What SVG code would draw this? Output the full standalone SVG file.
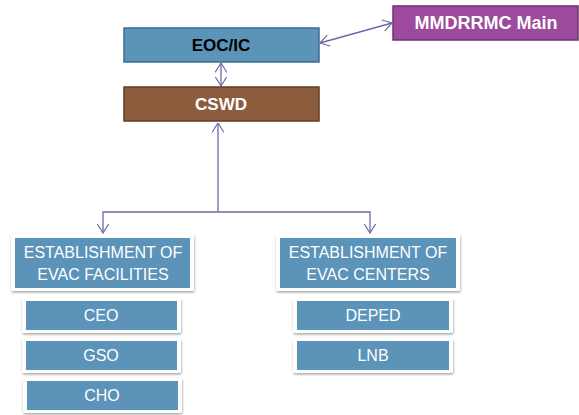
<svg xmlns="http://www.w3.org/2000/svg" width="579" height="415" viewBox="0 0 579 415">
<defs>
<style>
.t{font-family:"Liberation Sans",Arial,sans-serif;text-anchor:middle}
.hb{font-weight:bold;font-size:17px}
.w{fill:#ffffff}
.lbl{font-size:16px;fill:#ffffff}
.frame{fill:#ffffff;filter:url(#sh)}
.blue{fill:#5b93b9}
.con{stroke:#6a6aa8;stroke-width:1.3;fill:none}
</style>
<filter id="sh" x="-10%" y="-10%" width="120%" height="130%">
<feDropShadow dx="0.5" dy="1.5" stdDeviation="1.2" flood-color="#000" flood-opacity="0.35"/>
</filter>
<marker id="ah" viewBox="0 0 10 12" refX="9.5" refY="6" markerWidth="10" markerHeight="12" markerUnits="userSpaceOnUse" orient="auto-start-reverse">
<path d="M0,0 L9.5,6 L0,12" fill="none" stroke="#6a6aa8" stroke-width="1.2"/>
</marker>
</defs>
<rect width="579" height="415" fill="#ffffff"/>

<g id="connectors">
<line class="con" x1="320" y1="43" x2="392" y2="23" marker-start="url(#ah)" marker-end="url(#ah)"/>
<line class="con" x1="221" y1="63" x2="221" y2="86" marker-start="url(#ah)" marker-end="url(#ah)"/>
<polyline class="con" points="218,123 218,212" marker-start="url(#ah)"/>
<polyline class="con" points="103,233 103,212 370,212 370,233" marker-start="url(#ah)" marker-end="url(#ah)"/>
</g>

<g id="mmdrrmc">
<rect x="393" y="6" width="185" height="34" fill="#9c4a9e" stroke="#6f3072" stroke-width="1.5"/>
<text class="t hb w" x="486" y="29" style="font-size:18px">MMDRRMC Main</text>
</g>

<g id="eoc">
<rect x="124" y="28" width="195" height="34" fill="#5b93b9" stroke="#3e6d8f" stroke-width="1.5"/>
<text class="t hb" x="221" y="51" fill="#000000">EOC/IC</text>
</g>

<g id="cswd">
<rect x="124" y="87" width="195" height="34" fill="#8b5d3c" stroke="#5f3e26" stroke-width="1.5"/>
<text class="t hb w" x="221" y="110">CSWD</text>
</g>

<g id="facilities">
<rect class="frame" x="11" y="234" width="183" height="57" rx="2"/>
<rect class="blue" x="15" y="238" width="175" height="50"/>
<text class="t lbl" x="103" y="258">ESTABLISHMENT OF</text>
<text class="t lbl" x="103" y="280">EVAC FACILITIES</text>
</g>

<g id="centers">
<rect class="frame" x="276" y="234" width="184" height="57" rx="2"/>
<rect class="blue" x="280" y="238" width="176" height="50"/>
<text class="t lbl" x="368" y="258">ESTABLISHMENT OF</text>
<text class="t lbl" x="368" y="280">EVAC CENTERS</text>
</g>

<g id="ceo">
<rect class="frame" x="22" y="298" width="159" height="35" rx="2"/>
<rect class="blue" x="26" y="301" width="151" height="29"/>
<text class="t lbl" x="101" y="321">CEO</text>
</g>

<g id="gso">
<rect class="frame" x="22" y="338" width="159" height="35" rx="2"/>
<rect class="blue" x="26" y="341" width="151" height="29"/>
<text class="t lbl" x="101" y="361">GSO</text>
</g>

<g id="cho">
<rect class="frame" x="23" y="378" width="159" height="35" rx="2"/>
<rect class="blue" x="27" y="381" width="151" height="29"/>
<text class="t lbl" x="102" y="401">CHO</text>
</g>

<g id="deped">
<rect class="frame" x="293" y="298" width="160" height="35" rx="2"/>
<rect class="blue" x="297" y="301" width="152" height="29"/>
<text class="t lbl" x="373" y="321">DEPED</text>
</g>

<g id="lnb">
<rect class="frame" x="293" y="338" width="160" height="35" rx="2"/>
<rect class="blue" x="297" y="341" width="152" height="29"/>
<text class="t lbl" x="373" y="361">LNB</text>
</g>
</svg>
